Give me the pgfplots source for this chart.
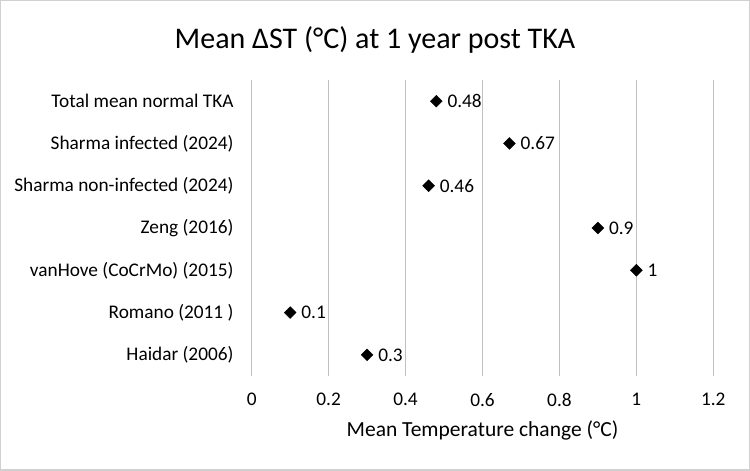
\documentclass[border=0pt]{standalone}
\usepackage{pgfplots}
\pgfplotsset{compat=1.18}
\usepackage{fontspec}
\setmainfont{Carlito}
\definecolor{gridgray}{HTML}{C0C0C0}
\definecolor{bordergray}{HTML}{D0D0D0}
\begin{document}
\begin{tikzpicture}[x=1pt,y=1pt]
\useasboundingbox (-251.7,-95) rectangle (498.3,376);
\draw[bordergray, line width=1.5pt] (-251,-94.25) rectangle (497.55,375.25);
\begin{axis}[
  at={(0,0)}, anchor=south west,
  scale only axis, width=461.6pt, height=296pt,
  xmin=0, xmax=1.2, ymin=-0.5, ymax=6.5,
  xtick={0,0.2,...,1.2},
  xticklabels={0,0.2,0.4,0.6,0.8,1,1.2},
  ytick={0,...,6},
  yticklabels={Haidar (2006),Romano (2011 ),vanHove (CoCrMo) (2015),Zeng (2016),Sharma non-infected (2024),Sharma infected (2024),Total mean normal TKA},
  axis line style={draw=none},
  axis x line*=bottom,
  axis y line*=left,
  major tick length=0pt,
  xmajorgrids, major grid style={gridgray, line width=1pt},
  extra x ticks={0}, extra x tick labels={}, extra x tick style={grid=major},
  /pgf/number format/assume math mode=true,
  tick label style={font=\fontsize{19.3}{21}\selectfont, inner sep=0pt},
  xticklabel style={anchor=north, yshift=-17pt},
  yticklabel style={anchor=east, xshift=-18pt},
  xlabel={Mean Temperature change (°C)},
  xlabel style={font=\fontsize{21.5}{23}\selectfont, at={(axis description cs:0.5,0)}, anchor=north, yshift=-45pt, inner sep=0pt},
  clip=false,
]
\addplot[only marks, mark=square*, mark size=4.2pt, mark options={rotate=45, fill=black, draw=black},
  point meta=x,
  nodes near coords, every node near coord/.append style={font=\fontsize{19.3}{21}\selectfont, anchor=west, inner sep=0pt, xshift=11pt, text=black}]
  coordinates {(0.3,0) (0.1,1) (1,2) (0.9,3) (0.46,4) (0.67,5) (0.48,6)};
\end{axis}
\node[font=\fontsize{30}{33}\selectfont] at (123.3,336) {Mean ΔST (°C) at 1 year post TKA};
\end{tikzpicture}
\end{document}
